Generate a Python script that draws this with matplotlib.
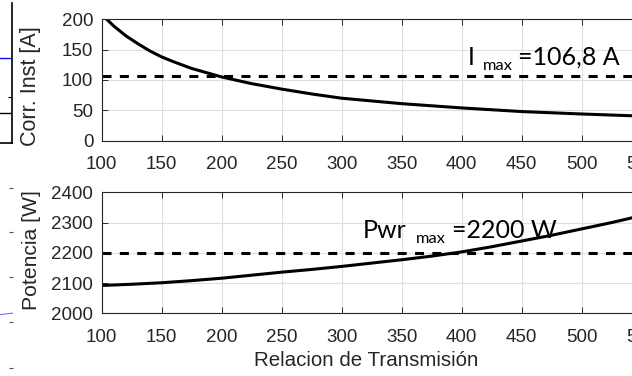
import numpy as np
import matplotlib
matplotlib.use('Agg')
import matplotlib.pyplot as plt

# relacion de transmision (eje x) y lecturas de las curvas
rel_corr = [100, 110, 120, 130, 140, 150, 160, 175, 200, 225, 250, 275, 300,
            350, 400, 450, 500, 550]
corr_inst = [208, 189, 173, 160, 148, 138, 130, 119, 105, 94, 85, 77, 70,
             61, 54, 48, 44, 40.5]

rel_pot = [100, 125, 150, 175, 200, 225, 250, 275, 300, 325, 350, 375, 400,
           425, 450, 475, 500, 525, 550]
potencia = [2092, 2096, 2101, 2108, 2116, 2126, 2136, 2145, 2155, 2166, 2177,
            2189, 2203, 2220, 2239, 2258, 2279, 2300, 2323]

i_max = 106.8
pwr_max = 2200

x_ticks = [100, 150, 200, 250, 300, 350, 400, 450, 500, 550]
corr_ticks = [0, 50, 100, 150, 200]
pot_ticks = [2000, 2100, 2200, 2300, 2400]

# restos de la figura vecina (borde izquierdo de la captura)
resto_azul_sup = [0.607, 0.607]
resto_linea_sup = [0.216, 0.216]
resto_ticks_inf = [0.04, 0.26, 0.48, 0.70, 0.915]
resto_azul_inf = [0.28, 0.305]

plt.rcParams['lines.scale_dashes'] = False
plt.rcParams['font.family'] = ['Liberation Sans', 'DejaVu Sans']
gris = '#262626'

fig = plt.figure(figsize=(6.32, 3.76), dpi=100)

W, H = 632.0, 376.0
ax1 = fig.add_axes([101.7 / W, 1 - 140.7 / H, 540 / W, 121.4 / H])
ax2 = fig.add_axes([101.7 / W, 1 - 313.3 / H, 540 / W, 121.0 / H])

def estilo(ax, yticks):
    ax.set_xlim(100, 550)
    ax.set_xticks(x_ticks)
    ax.set_yticks(yticks)
    ax.set_ylim(yticks[0], yticks[-1])
    ax.grid(True, color='#dedede', linewidth=0.8)
    ax.set_axisbelow(True)
    for s in ax.spines.values():
        s.set_color(gris)
        s.set_linewidth(0.8)
    ax.tick_params(direction='in', length=4, width=0.7, color=gris,
                   labelcolor=gris, labelsize=13.5, top=True, right=True)
    ax.tick_params(axis='x', pad=11)
    ax.tick_params(axis='y', pad=6)

estilo(ax1, corr_ticks)
estilo(ax2, pot_ticks)

ax1.plot(rel_corr, corr_inst, color='black', linewidth=2.2)
ax1.axhline(i_max, color='black', linewidth=2.2, dashes=(6.5, 6.0))
ax2.plot(rel_pot, potencia, color='black', linewidth=2.2)
ax2.axhline(pwr_max, color='black', linewidth=2.2, dashes=(6.5, 6.0))

ax1.set_ylabel('Corr. Inst [A]', fontsize=15.5, color=gris)
ax1.yaxis.set_label_coords(-0.113, 0.45)
ax2.set_ylabel('Potencia [W]', fontsize=15.2, color=gris)
ax2.yaxis.set_label_coords(-0.113, 0.52)
ax2.set_xlabel('Relacion de Transmisión', fontsize=14.8, color=gris)
ax2.xaxis.set_label_coords(0.49, -0.31)

# etiquetas I max / Pwr max
fuente = ['Lato', 'DejaVu Sans']
ax1.text(405, 124.7, 'I', fontsize=18, family=fuente, va='baseline')
ax1.text(417.8, 116.5, 'max', fontsize=11.8, family=fuente, va='baseline')
ax1.text(447, 124.7, '=106,8 A', fontsize=18, family=fuente, va='baseline')

ax2.text(317.5, 2248, 'Pwr', fontsize=18, family=fuente, va='baseline')
ax2.text(362, 2231, 'max', fontsize=11.8, family=fuente, va='baseline')
ax2.text(391.7, 2248, '=2200 W', fontsize=18, family=fuente, va='baseline')

# restos de la figura de la izquierda
ax3 = fig.add_axes([-0.05, 1 - 143.3 / H, 0.05 + 11.7 / W, 140 / H])
ax3.set_xlim(0, 1)
ax3.set_ylim(0, 1)
ax3.plot([0, 1], resto_azul_sup, color='#1010ff', linewidth=1.0)
ax3.plot([0, 1], resto_linea_sup, color='black', linewidth=1.0)
for lado in ['left', 'top']:
    ax3.spines[lado].set_visible(False)
for lado in ['right', 'bottom']:
    ax3.spines[lado].set_linewidth(1.2)
ax3.set_xticks([])
ax3.yaxis.tick_right()
ax3.set_yticks([0.333])
ax3.tick_params(axis='y', direction='in', length=3, labelright=False)

ax4 = fig.add_axes([-0.05, 0, 0.05 + 12.7 / W, 206 / H])
ax4.set_xlim(0, 1)
ax4.set_ylim(0, 1)
ax4.plot([0, 1], resto_azul_inf, color='#7070ff', linewidth=0.8)
for s in ax4.spines.values():
    s.set_visible(False)
ax4.set_xticks([])
ax4.yaxis.tick_right()
ax4.set_yticks(resto_ticks_inf)
ax4.tick_params(axis='y', direction='in', length=3, color='#555555',
                labelright=False)

fig.savefig('out.png', dpi=100)
